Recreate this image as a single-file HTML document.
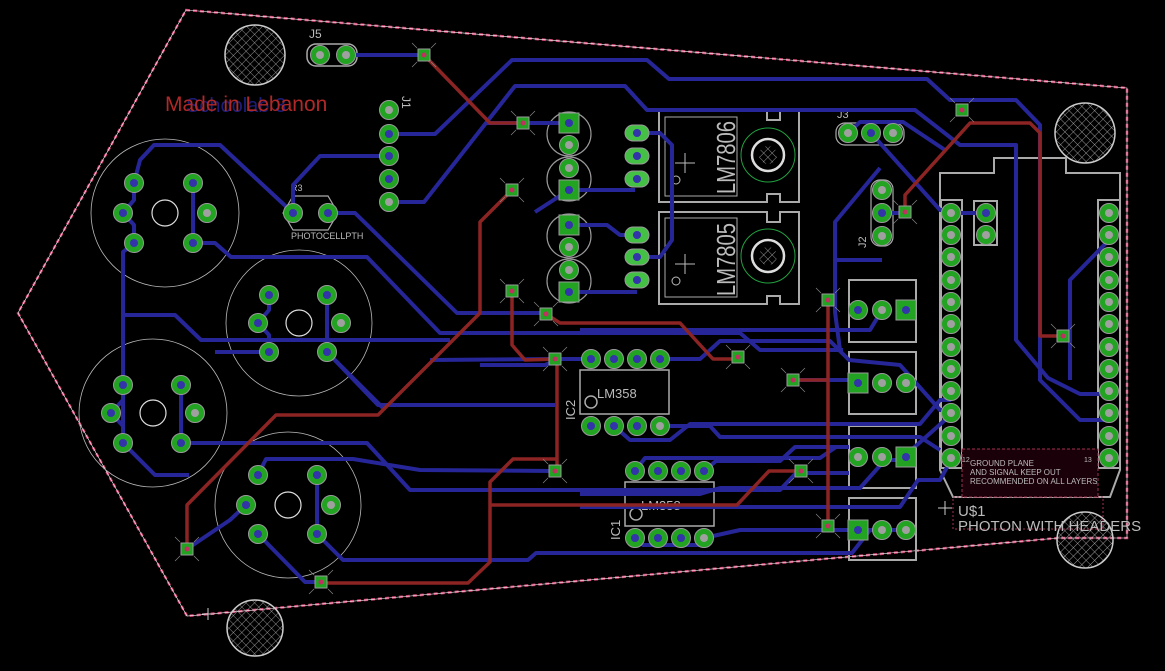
<!DOCTYPE html>
<html><head><meta charset="utf-8"><style>
html,body{margin:0;padding:0;background:#000;}
svg{display:block;}
text{font-family:"Liberation Sans",sans-serif;}
</style></head><body>
<svg width="1165" height="671" viewBox="0 0 1165 671" xmlns="http://www.w3.org/2000/svg">
<defs>
<g id="p"><circle r="9.5" fill="#22a322" stroke="#9a9a9a" stroke-width="1"/><circle r="4" fill="#a0a0a0"/></g>
<g id="pb"><circle r="9.5" fill="#22a322" stroke="#9a9a9a" stroke-width="1"/><circle r="4" fill="#3333aa"/></g>
<g id="sq"><rect x="-10" y="-10" width="20" height="20" fill="#22a322" stroke="#9a9a9a"/><circle r="4" fill="#3333aa"/></g>
<g id="v"><rect x="-6" y="-6" width="12" height="12" fill="#22a322" stroke="#9a9a9a"/><circle r="2.5" fill="#c03060"/><path d="M-12-12L-7-7M12-12L7-7M-12 12L-7 7M12 12L7 7" stroke="#888" stroke-width="0.7"/></g>
<g id="ov"><rect x="-12" y="-8" width="24" height="16" rx="8" fill="#44c044" stroke="#9a9a9a"/><circle r="4" fill="#3333aa"/></g>
<pattern id="hat" width="6" height="6" patternUnits="userSpaceOnUse" patternTransform="rotate(45)"><path d="M0 0H6M0 0V6" stroke="#bbb" stroke-width="0.8"/></pattern>
</defs>

<path d="M186 10L1127 88L1127 538L1058 538L187 616L18 313Z" fill="none" stroke="#d04070" stroke-width="2.5" stroke-dasharray="4 3"/>
<path d="M186 10L1127 88L1127 538L1058 538L187 616L18 313Z" fill="none" stroke="#fff" stroke-width="0.6"/>

<g fill="url(#hat)" stroke="#ccc" stroke-width="1.5">
<circle cx="255" cy="55" r="30"/><circle cx="1085" cy="133" r="30"/><circle cx="255" cy="628" r="28"/><circle cx="1085" cy="540" r="28"/>
</g>

<g fill="none" stroke="#bbb" stroke-width="0.8">
<circle cx="165" cy="213" r="74"/><circle cx="299" cy="323" r="73"/><circle cx="153" cy="413" r="74"/><circle cx="288" cy="505" r="73"/>
</g>
<g fill="none" stroke="#ddd" stroke-width="1.2">
<circle cx="165" cy="213" r="13"/><circle cx="299" cy="323" r="13"/><circle cx="153" cy="413" r="13"/><circle cx="288" cy="505" r="13"/>
</g>

<g fill="none" stroke="#aaa" stroke-width="2">
<path d="M659 110H767V120H780V110H799V202H780V194H767V202H659Z"/>
<path d="M659 212H767V222H780V212H799V304H780V296H767V304H659Z"/>
<rect x="665" y="117" width="72" height="79" stroke-width="1"/>
<rect x="665" y="218" width="72" height="79" stroke-width="1"/>
<circle cx="768" cy="155" r="16" stroke="#ddd" stroke-width="2.5"/>
<circle cx="768" cy="256" r="16" stroke="#ddd" stroke-width="2.5"/>
</g>
<circle cx="768" cy="155" r="9" fill="url(#hat)"/>
<circle cx="768" cy="256" r="9" fill="url(#hat)"/>
<circle cx="768" cy="155" r="27" fill="none" stroke="#22a040" stroke-width="1"/>
<circle cx="768" cy="256" r="27" fill="none" stroke="#22a040" stroke-width="1"/>
<text transform="translate(735,194) rotate(-90)" fill="#bbb" font-size="26" textLength="73" lengthAdjust="spacingAndGlyphs">LM7806</text>
<text transform="translate(735,296) rotate(-90)" fill="#bbb" font-size="26" textLength="73" lengthAdjust="spacingAndGlyphs">LM7805</text>
<path d="M675 163H695M685 153V173" stroke="#bbb" stroke-width="1"/>
<path d="M675 264H695M685 254V274" stroke="#bbb" stroke-width="1"/>
<circle cx="676" cy="180" r="4" fill="none" stroke="#bbb"/><circle cx="676" cy="281" r="4" fill="none" stroke="#bbb"/>

<g fill="none" stroke="#999" stroke-width="1.2">
<circle cx="569" cy="134" r="22"/><circle cx="569" cy="179" r="22"/><circle cx="569" cy="236" r="22"/><circle cx="569" cy="281" r="22"/>
</g>

<g fill="none" stroke="#aaa" stroke-width="2">
<rect x="849" y="280" width="67" height="62"/><rect x="849" y="352" width="67" height="62"/><rect x="849" y="426" width="67" height="62"/><rect x="849" y="498" width="67" height="62"/>
</g>

<g fill="none" stroke="#aaa" stroke-width="1.5">
<rect x="580" y="370" width="89" height="44"/><rect x="625" y="482" width="89" height="44"/>
<circle cx="591" cy="402" r="6"/><circle cx="636" cy="514" r="6"/>
</g>
<text x="597" y="398" fill="#bbb" font-size="13">LM358</text>
<text x="641" y="510" fill="#bbb" font-size="13">LM358</text>
<text transform="translate(575,420) rotate(-90)" fill="#bbb" font-size="13">IC2</text>
<text transform="translate(620,540) rotate(-90)" fill="#bbb" font-size="13">IC1</text>

<g fill="none" stroke="#aaa" stroke-width="2">
<path d="M940 470V173H994V158H1066V173H1120V470L1110 497H953Z"/>
<rect x="941" y="200" width="21" height="268"/><rect x="1098" y="200" width="22" height="268"/>
<rect x="974" y="201" width="23" height="44"/>
<rect x="953" y="497" width="150" height="32" stroke="#a03050" stroke-width="1" stroke-dasharray="2 2"/>
</g>
<rect x="962" y="449" width="136" height="48" fill="#1a0008" stroke="#a03050" stroke-dasharray="3 2"/>
<text x="970" y="466" fill="#bbb" font-size="8">GROUND PLANE</text>
<text x="970" y="475" fill="#bbb" font-size="8">AND SIGNAL KEEP OUT</text>
<text x="970" y="484" fill="#bbb" font-size="8">RECOMMENDED ON ALL LAYERS</text>
<text x="962" y="462" fill="#bbb" font-size="7">12</text><text x="1084" y="462" fill="#bbb" font-size="7">13</text>
<text x="958" y="516" fill="#bbb" font-size="15">U$1</text>
<text x="958" y="531" fill="#bbb" font-size="15">PHOTON WITH HEADERS</text>

<rect x="307" y="44" width="50" height="22" rx="9" fill="none" stroke="#aaa" stroke-width="1.5"/>
<text x="309" y="38" fill="#bbb" font-size="12">J5</text>
<text transform="translate(402,96) rotate(90)" fill="#bbb" font-size="12">J1</text>
<path d="M283 213L293 196H328L338 213L328 230H293Z" fill="none" stroke="#aaa" stroke-width="1.2"/>
<text x="291" y="191" fill="#bbb" font-size="9">R3</text>
<text x="291" y="239" fill="#bbb" font-size="9">PHOTOCELLPTH</text>
<rect x="836" y="123" width="68" height="22" rx="9" fill="none" stroke="#aaa" stroke-width="1.2"/>
<text x="837" y="118" fill="#bbb" font-size="11">J3</text>
<rect x="871" y="180" width="22" height="66" rx="9" fill="none" stroke="#aaa" stroke-width="1.2"/>
<text transform="translate(866,248) rotate(-90)" fill="#bbb" font-size="11">J2</text>

<g fill="none" stroke="#262699" stroke-width="4" stroke-linejoin="round">
<path d="M346 55H424"/>
<path d="M389 134H435L512 60H647L669 79H927L950 100H1016L1040 125V380L1080 420H1109"/>
<path d="M389 202H424L515 86H625L647 110H915L960 145H1016V340L1048 378L1080 394H1109"/>
<path d="M389 156H320L293 185V213"/>
<path d="M328 213H355L457 313H544"/>
<path d="M134 183L140 160L154 145H220L293 213"/>
<path d="M134 183V200L123 213L134 225V243L123 252V430"/>
<path d="M193 183V243H215L231 257H367L440 333H740L760 350H843"/>
<path d="M123 315H175L201 340H450"/>
<path d="M269 295V310L258 323L269 335V352H215"/>
<path d="M327 295V352L378 405H555"/>
<path d="M123 385V400L111 413L123 426V443L155 475H189"/>
<path d="M181 385V443H367L410 490H780L796 473H849"/>
<path d="M258 475L266 459H353L420 470L555 471"/>
<path d="M246 505L230 520L187 549"/>
<path d="M258 534L305 582H321"/>
<path d="M317 475V534L343 560H528L536 553H852L870 530H906"/>
<path d="M327 352L385 410"/>
<path d="M569 123H487"/>
<path d="M637 133H660L672 145V240L660 257H637"/>
<path d="M569 190H635"/>
<path d="M569 190L535 212"/>
<path d="M569 225H607L620 235H637"/>
<path d="M569 292H637"/>
<path d="M848 133L860 122H903L945 150"/>
<path d="M871 133L940 210H951"/>
<path d="M880 168L835 222V312L840 350"/>
<path d="M835 260H882"/>
<path d="M882 213H905"/>
<path d="M951 213H986"/>
<path d="M591 359H560L545 365H480"/>
<path d="M660 359H700L720 341H830L849 360L900 365L940 410H951"/>
<path d="M614 426L630 440H670L690 424H920L940 400H951"/>
<path d="M660 426H710L720 437H920L940 450"/>
<path d="M635 471L645 458H820L836 447H849"/>
<path d="M704 471L716 461H780L795 447H849"/>
<path d="M580 494H700L720 488H860L885 460H900L945 420H951"/>
<path d="M580 507H900L918 480H940L951 460"/>
<path d="M635 538L643 545H700"/>
<path d="M704 538L740 530H870"/>
<path d="M793 380H849"/>
<path d="M882 310L870 330H580"/>
<path d="M430 360L555 359"/>
<path d="M1109 240L1070 280V380"/>
</g>

<g fill="none" stroke="#8c2424" stroke-width="3.5" stroke-linejoin="round">
<path d="M424 55L490 123H523"/>
<path d="M512 190L480 222V313L463 330L378 415H276L187 505V549"/>
<path d="M512 291V345L525 360L557 359V471"/>
<path d="M557 459H513L490 482V562L468 583H321"/>
<path d="M490 505H737L769 471H801"/>
<path d="M546 314L560 323H680L713 359H738"/>
<path d="M828 300V526"/>
<path d="M793 380H828"/>
<path d="M905 212V195L970 123H1030L1040 133V336H1063"/>
</g>

<use href="#p" x="320" y="55"/><use href="#p" x="346" y="55"/>
<use href="#p" x="389" y="110"/><use href="#pb" x="389" y="134"/><use href="#pb" x="389" y="156"/><use href="#pb" x="389" y="179"/><use href="#p" x="389" y="202"/>
<use href="#pb" x="293" y="213"/><use href="#pb" x="328" y="213"/>
<g>
<use href="#pb" x="134" y="183"/><use href="#pb" x="123" y="213"/><use href="#pb" x="134" y="243"/><use href="#pb" x="193" y="183"/><use href="#p" x="207" y="213"/><use href="#pb" x="193" y="243"/>
<use href="#pb" x="269" y="295"/><use href="#pb" x="258" y="323"/><use href="#pb" x="269" y="352"/><use href="#pb" x="327" y="295"/><use href="#p" x="341" y="323"/><use href="#pb" x="327" y="352"/>
<use href="#pb" x="123" y="385"/><use href="#pb" x="111" y="413"/><use href="#pb" x="123" y="443"/><use href="#pb" x="181" y="385"/><use href="#p" x="195" y="413"/><use href="#pb" x="181" y="443"/>
<use href="#pb" x="258" y="475"/><use href="#pb" x="246" y="505"/><use href="#pb" x="258" y="534"/><use href="#pb" x="317" y="475"/><use href="#p" x="331" y="505"/><use href="#pb" x="317" y="534"/>
</g>
<use href="#sq" x="569" y="123"/><use href="#p" x="569" y="145"/><use href="#p" x="569" y="168"/><use href="#sq" x="569" y="190"/>
<use href="#sq" x="569" y="225"/><use href="#p" x="569" y="247"/><use href="#p" x="569" y="270"/><use href="#sq" x="569" y="292"/>
<use href="#ov" x="637" y="133"/><use href="#ov" x="637" y="156"/><use href="#ov" x="637" y="179"/>
<use href="#ov" x="637" y="235"/><use href="#ov" x="637" y="257"/><use href="#ov" x="637" y="280"/>
<use href="#p" x="848" y="133"/><use href="#pb" x="871" y="133"/><use href="#p" x="893" y="133"/>
<use href="#p" x="882" y="190"/><use href="#pb" x="882" y="213"/><use href="#p" x="882" y="236"/>
<use href="#pb" x="986" y="213"/><use href="#p" x="986" y="235"/>
<g>
<use href="#p" x="951" y="213"/><use href="#p" x="951" y="235"/><use href="#p" x="951" y="257"/><use href="#p" x="951" y="280"/><use href="#p" x="951" y="302"/><use href="#p" x="951" y="324"/><use href="#p" x="951" y="347"/><use href="#p" x="951" y="369"/><use href="#p" x="951" y="391"/><use href="#p" x="951" y="413"/><use href="#p" x="951" y="436"/><use href="#p" x="951" y="458"/>
<use href="#p" x="1109" y="213"/><use href="#p" x="1109" y="235"/><use href="#p" x="1109" y="257"/><use href="#p" x="1109" y="280"/><use href="#p" x="1109" y="302"/><use href="#p" x="1109" y="324"/><use href="#p" x="1109" y="347"/><use href="#p" x="1109" y="369"/><use href="#p" x="1109" y="391"/><use href="#p" x="1109" y="413"/><use href="#p" x="1109" y="436"/><use href="#p" x="1109" y="458"/>
</g>
<g>
<use href="#pb" x="858" y="310"/><use href="#p" x="882" y="310"/><use href="#sq" x="906" y="310"/>
<use href="#sq" x="858" y="383"/><use href="#p" x="882" y="383"/><use href="#p" x="906" y="383"/>
<use href="#p" x="858" y="457"/><use href="#p" x="882" y="457"/><use href="#sq" x="906" y="457"/>
<use href="#sq" x="858" y="530"/><use href="#p" x="882" y="530"/><use href="#p" x="906" y="530"/>
</g>
<g>
<use href="#pb" x="591" y="359"/><use href="#pb" x="614" y="359"/><use href="#pb" x="637" y="359"/><use href="#pb" x="660" y="359"/>
<use href="#pb" x="591" y="426"/><use href="#pb" x="614" y="426"/><use href="#pb" x="637" y="426"/><use href="#p" x="660" y="426"/>
<use href="#pb" x="635" y="471"/><use href="#pb" x="658" y="471"/><use href="#pb" x="681" y="471"/><use href="#pb" x="704" y="471"/>
<use href="#pb" x="635" y="538"/><use href="#pb" x="658" y="538"/><use href="#pb" x="681" y="538"/><use href="#p" x="704" y="538"/>
</g>

<use href="#v" x="424" y="55"/><use href="#v" x="523" y="123"/><use href="#v" x="512" y="190"/><use href="#v" x="512" y="291"/><use href="#v" x="546" y="314"/><use href="#v" x="738" y="357"/><use href="#v" x="793" y="380"/><use href="#v" x="828" y="300"/><use href="#v" x="555" y="359"/><use href="#v" x="555" y="471"/><use href="#v" x="801" y="471"/><use href="#v" x="828" y="526"/><use href="#v" x="962" y="110"/><use href="#v" x="905" y="212"/><use href="#v" x="1063" y="336"/><use href="#v" x="321" y="582"/><use href="#v" x="187" y="549"/>

<text x="186" y="112" fill="#262699" font-size="20" opacity="0.8">Schoolab 3</text>
<text x="165" y="111" fill="#b02828" font-size="21">Made in Lebanon</text>
<path d="M938 508H952M945 501V515M208 608V620M202 614H214" stroke="#ccc" stroke-width="1"/>
</svg>
</body></html>
